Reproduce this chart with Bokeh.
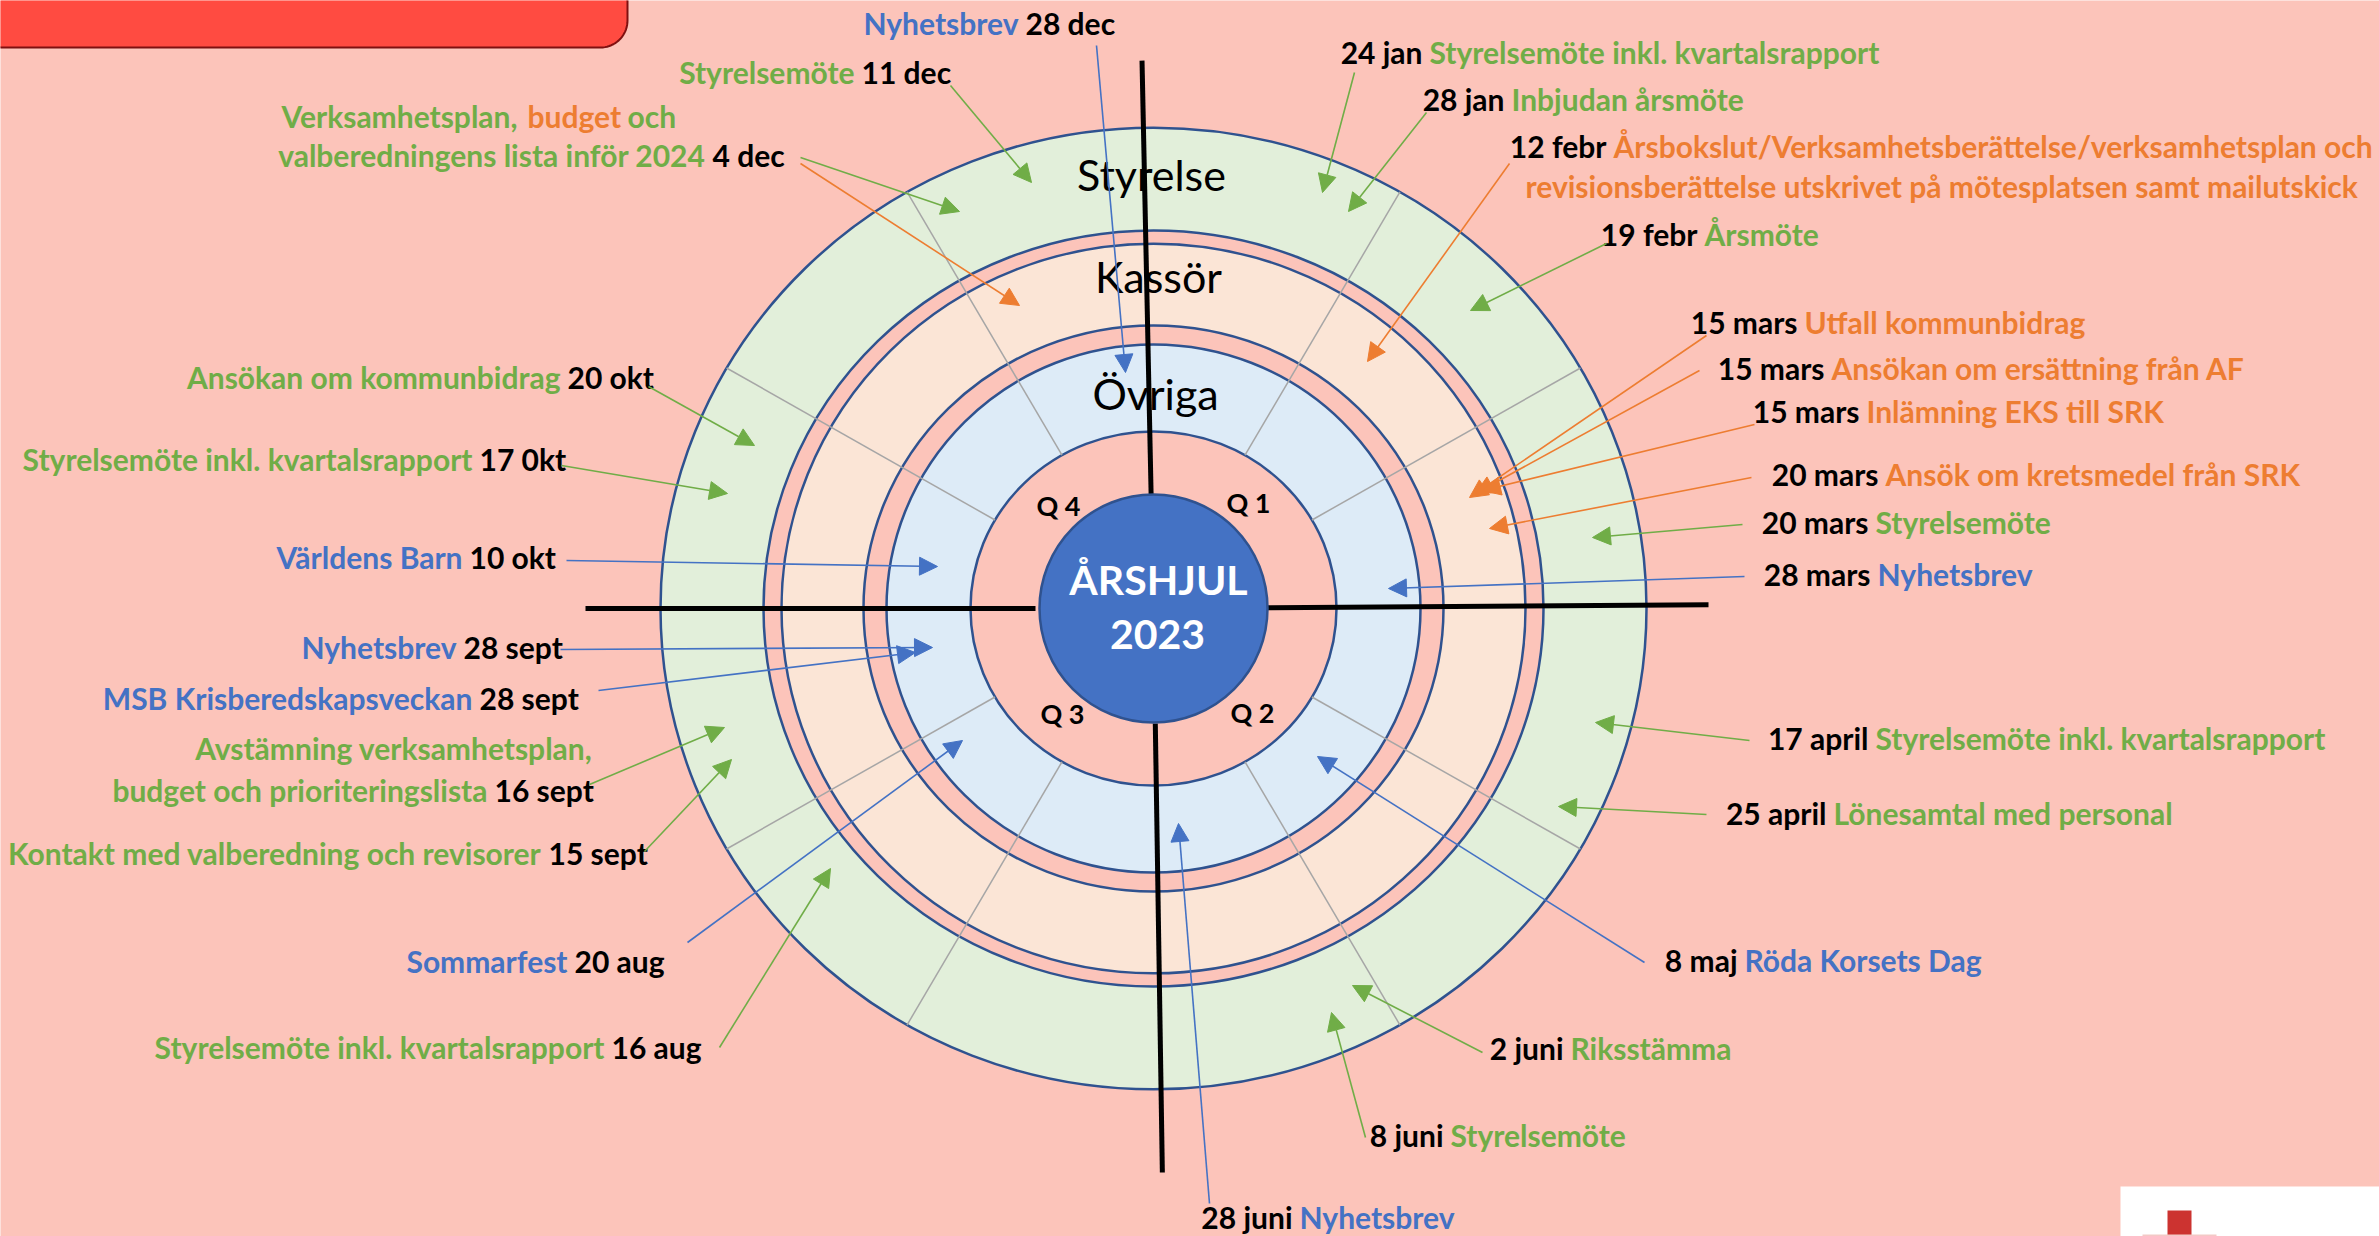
import numpy as np
from bokeh.plotting import figure
from bokeh.models import Range1d, ColumnDataSource, Arrow, NormalHead
from bokeh.core.properties import value
from bokeh.embed import file_html
from bokeh.resources import INLINE

# ---------------------------------------------------------------- data
wheel_title = "ÅRSHJUL"
wheel_year = "2023"
rings = ["Styrelse", "Kassör", "Övriga"]
quarters = ["Q 1", "Q 2", "Q 3", "Q 4"]

ev_date = ["24 jan", "28 jan", "12 febr", "19 febr", "15 mars", "15 mars", "15 mars",
           "20 mars", "20 mars", "28 mars", "17 april", "25 april", "8 maj", "2 juni",
           "8 juni", "28 juni", "16 aug", "20 aug", "15 sept", "16 sept", "28 sept",
           "28 sept", "10 okt", "17 0kt", "20 okt", "4 dec", "11 dec", "28 dec"]
ev_text = ["Styrelsemöte inkl. kvartalsrapport",
           "Inbjudan årsmöte",
           "Årsbokslut/Verksamhetsberättelse/verksamhetsplan och\nrevisionsberättelse utskrivet på mötesplatsen samt mailutskick",
           "Årsmöte",
           "Utfall kommunbidrag",
           "Ansökan om ersättning från AF",
           "Inlämning EKS till SRK",
           "Ansök om kretsmedel från SRK",
           "Styrelsemöte",
           "Nyhetsbrev",
           "Styrelsemöte inkl. kvartalsrapport",
           "Lönesamtal med personal",
           "Röda Korsets Dag",
           "Riksstämma",
           "Styrelsemöte",
           "Nyhetsbrev",
           "Styrelsemöte inkl. kvartalsrapport",
           "Sommarfest",
           "Kontakt med valberedning och revisorer",
           "Avstämning verksamhetsplan,\nbudget och prioriteringslista",
           "MSB Krisberedskapsveckan",
           "Nyhetsbrev",
           "Världens Barn",
           "Styrelsemöte inkl. kvartalsrapport",
           "Ansökan om kommunbidrag",
           "Verksamhetsplan, budget och\nvalberedningens lista inför 2024",
           "Styrelsemöte",
           "Nyhetsbrev"]
ev_group = ["Styrelse", "Styrelse", "Kassör", "Styrelse", "Kassör", "Kassör", "Kassör",
            "Kassör", "Styrelse", "Övriga", "Styrelse", "Styrelse", "Övriga", "Styrelse",
            "Styrelse", "Övriga", "Styrelse", "Övriga", "Styrelse", "Styrelse", "Övriga",
            "Övriga", "Övriga", "Styrelse", "Styrelse", "Styrelse", "Styrelse", "Övriga"]
# words inside a label that belong to another responsible group
ev_highlight = {25: ("budget", "Kassör")}

# arrows: event index and responsible group
arr_event = list(range(25)) + [25, 25, 26, 27]
arr_group = [ev_group[i] for i in range(25)] + ["Styrelse", "Kassör", "Styrelse", "Övriga"]

# ---------------------------------------------------------------- layout / style
W, H = 2379, 1236
BG = "#FCC4BA"
GROUP_COLOR = {"Styrelse": "#70AD47", "Kassör": "#ED7D31", "Övriga": "#4472C4"}
RING_FILL = {"Styrelse": "#E2EFDA", "Kassör": "#FBE5D6", "Övriga": "#DDEBF7"}
EDGE = "#2F528F"
FONT = value("Lato")
LBL_PX = 30
RING_PX = 43
CENTER_PX = 41
Q_PX = 27
BASE_SHIFT = 0.385          # renderer places alphabetic text this many em lower

CX, CY = 1153, 608
ring_outer = [(493, 481), (372, 365), (267, 264)]
ring_inner = [(390, 378), (290, 283), (183, 177)]
ring_label_pos = [(1151, 191), (1158, 293), (1155, 410)]
center_r = 114
center_text_pos = [(1158, 595), (1157, 650)]
quarter_pos = [(1248, 512), (1252, 722), (1062, 723), (1058, 515)]
spoke_angles = [30, 60, 120, 150, 210, 240, 300, 330]
divider_angles = [-1.2, 89.6, 179.1, 270.0]
divider_r0 = [113, 112, 115, 118]
divider_r1 = [548, 555, 564, 568]

ev_side = ["R"] * 16 + ["L"] * 12
ev_anchor_x = [1429, 1511, 1613, 1704, 1804, 1831, 1866, 1885, 1875, 1877, 1875, 1833,
               1744, 1570, 1450, 1299, 604, 567, 541, 487, 472, 456, 462, 472, 560, 705,
               854, 1018]
ev_base_y = [63, 110, 157, 245, 333, 379, 422, 485, 533, 585, 749, 824, 971, 1059, 1146,
             1228, 1058, 972, 864, 801, 709, 658, 568, 470, 388, 166, 83, 34]
ev_extra = {2: (1525, "left", 40), 19: (592, "right", -42), 25: (281, "left", -39)}
highlight_x = {25: [281, 527, 627]}

arr_x0 = [1354, 1426, 1509, 1606, 1706, 1699, 1754, 1751, 1742, 1744, 1749, 1706, 1644,
          1482, 1365, 1209, 719, 687, 644, 589, 598, 560, 566, 561, 648, 800, 800, 950, 1096]
arr_y0 = [72, 112, 163, 243, 335, 370, 424, 477, 524, 576, 740, 814, 962, 1052, 1137, 1203,
          1047, 942, 851, 784, 690, 649, 560, 465, 386, 157, 163, 85, 45]
arr_x1 = [1322, 1348, 1367, 1470, 1469, 1475, 1482, 1489, 1592, 1388, 1595, 1558, 1317,
          1352, 1331, 1178, 830, 962, 731, 724, 915, 932, 937, 727, 754, 959, 1019, 1031, 1125]
arr_y1 = [192, 211, 361, 310, 497, 493, 490, 528, 537, 588, 722, 806, 756, 985, 1012, 823,
          868, 740, 759, 727, 652, 647, 566, 493, 445, 211, 305, 182, 372]


def by(y, px):
    return y - BASE_SHIFT * px


# ---------------------------------------------------------------- figure
p = figure(width=W, height=H,
           x_range=Range1d(0, W), y_range=Range1d(H, 0),
           output_backend="svg", toolbar_location=None, min_border=0,
           x_axis_location=None, y_axis_location=None)
p.grid.visible = False
p.outline_line_color = None
p.background_fill_color = BG
p.border_fill_color = BG

# title banner (top-left, rounded lower-right corner)
t = np.linspace(0, np.pi / 2, 20)
bx = [-20, 627] + list(600 + 27 * np.cos(t)) + [-20]
bys = [-20, -20] + list(20 + 27 * np.sin(t)) + [47]
p.patch(bx, bys, fill_color="#FF4B41", line_color="#7F1010", line_width=2)

# logo box (bottom-right)
p.quad(left=[2120], right=[2400], top=[1186], bottom=[1260], fill_color="white", line_color=None)
p.quad(left=[2167], right=[2191], top=[1210], bottom=[1260], fill_color="#CC3330", line_color=None)
p.quad(left=[2142], right=[2216], top=[1234], bottom=[1260], fill_color="#F3C9C6", line_color=None)

# rings
for name, (ro, ri) in zip(rings, zip(ring_outer, ring_inner)):
    p.ellipse(x=[CX], y=[CY], width=[2 * ro[0]], height=[2 * ro[1]],
              fill_color=RING_FILL[name], line_color=EDGE, line_width=2.5)
    p.ellipse(x=[CX], y=[CY], width=[2 * ri[0]], height=[2 * ri[1]],
              fill_color=BG, line_color=EDGE, line_width=2.5)

# month spokes
a = np.radians(spoke_angles)
sx0 = CX + ring_inner[2][0] * np.sin(a)
sy0 = CY - ring_inner[2][1] * np.cos(a)
sx1 = CX + ring_outer[0][0] * np.sin(a)
sy1 = CY - ring_outer[0][1] * np.cos(a)
p.segment(sx0, sy0, sx1, sy1, line_color="#A6A6A6", line_width=1.5)

# ring titles
p.text(x=[q[0] for q in ring_label_pos], y=[by(q[1], RING_PX) for q in ring_label_pos],
       text=rings, text_font=FONT, text_font_size="%dpx" % RING_PX, text_color="black",
       text_align="center", text_baseline="alphabetic")

# quadrant dividers
d = np.radians(divider_angles)
dx0 = CX + np.array(divider_r0) * np.sin(d)
dy0 = CY - np.array(divider_r0) * np.cos(d)
dx1 = CX + np.array(divider_r1) * np.sin(d)
dy1 = CY - np.array(divider_r1) * np.cos(d)
p.segment(dx0, dy0, dx1, dy1, line_color="black", line_width=5)

# centre
p.ellipse(x=[CX], y=[CY], width=[2 * center_r], height=[2 * center_r],
          fill_color="#4472C4", line_color=EDGE, line_width=2.5)
p.text(x=[q[0] for q in center_text_pos], y=[by(q[1], CENTER_PX) for q in center_text_pos],
       text=[wheel_title, wheel_year],
       text_font=FONT, text_font_style="bold", text_font_size="%dpx" % CENTER_PX,
       text_color="white", text_align="center", text_baseline="alphabetic")
p.text(x=[q[0] for q in quarter_pos], y=[by(q[1], Q_PX) for q in quarter_pos], text=quarters,
       text_font=FONT, text_font_style="bold", text_font_size="%dpx" % Q_PX, text_color="black",
       text_align="center", text_baseline="alphabetic")

# arrows, one renderer per responsible group
for g, col in GROUP_COLOR.items():
    idx = [k for k, gg in enumerate(arr_group) if gg == g]
    src = ColumnDataSource(dict(x0=[arr_x0[k] for k in idx], y0=[arr_y0[k] for k in idx],
                                x1=[arr_x1[k] for k in idx], y1=[arr_y1[k] for k in idx]))
    p.add_layout(Arrow(end=NormalHead(size=18, fill_color=col, line_color=col),
                       x_start="x0", y_start="y0", x_end="x1", y_end="y1",
                       source=src, line_color=col, line_width=1.6))

# labels
pieces = {"left": dict(x=[], y=[], text=[], color=[]), "right": dict(x=[], y=[], text=[], color=[])}


def add(align, x, y, txt, col):
    d_ = pieces[align]
    d_["x"].append(x); d_["y"].append(by(y, LBL_PX)); d_["text"].append(txt); d_["color"].append(col)


GAP = 7
for i, (dt, txt, g) in enumerate(zip(ev_date, ev_text, ev_group)):
    col = GROUP_COLOR[g]
    lines = txt.split("\n")
    ax, y0 = ev_anchor_x[i], ev_base_y[i]
    if ev_side[i] == "R":
        add("right", ax - GAP, y0, dt, "black")
        add("left", ax, y0, lines[0], col)
        other = lines[1:]
    else:
        add("right", ax, y0, lines[-1], col)
        add("left", ax + GAP, y0, dt, "black")
        other = lines[:-1]
    for k, ln in enumerate(other):
        ex, ealign, dy = ev_extra[i]
        yy = y0 + dy * (k + 1)
        if i in ev_highlight:
            word, hg = ev_highlight[i]
            before, after = ln.split(word)
            segs = [(before.strip(), col), (word, GROUP_COLOR[hg]), (after.strip(), col)]
            for (s, c), xx in zip(segs, highlight_x[i]):
                add("left", xx, yy, s, c)
        else:
            add(ealign, ex, yy, ln, col)

for align, d_ in pieces.items():
    p.text(x="x", y="y", text="text", text_color="color", source=ColumnDataSource(d_),
           text_font=FONT, text_font_style="bold", text_font_size="%dpx" % LBL_PX,
           text_align=align, text_baseline="alphabetic")

html = file_html(p, INLINE, title="Årshjul 2023")
open("out.html", "w").write(html)
